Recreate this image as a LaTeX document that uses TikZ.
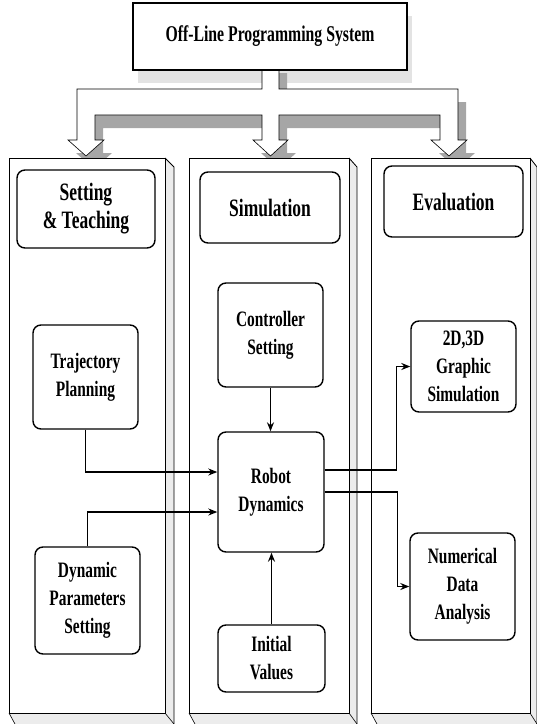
\documentclass[tikz,border=0pt]{standalone}
\usepackage{fontspec}
\setmainfont{Liberation Serif}[FakeStretch=0.70]
\usepackage{tikz}
\usetikzlibrary{positioning, arrows.meta}

\begin{document}
\begin{tikzpicture}[x=1pt, y=-1pt, >={Stealth[length=9pt,width=7pt]},
    blk/.style={draw, line width=1.4pt, rounded corners=8pt, fill=white, align=center,
      inner sep=0pt, font=\fontsize{22}{28}\selectfont\bfseries},
    head/.style={blk, font=\fontsize{25}{28}\selectfont\bfseries},
    flow/.style={->, line width=1.3pt}]
  \useasboundingbox (0,0) rectangle (537,724);
  % top box shadow
  \fill[gray!22] (138,16) rectangle (412,83);
  % branching arrow, shadow then face
  \def\branch{(77,89) -- (262,89) -- (262,60) -- (279,60) -- (279,89) -- (458,89) -- (458,140)
    -- (467,140) -- (449,156) -- (431,140) -- (440,140) -- (440,115) -- (279,115) -- (279,140)
    -- (288,140) -- (270.5,156) -- (253,140) -- (262,140) -- (262,115) -- (95,115) -- (95,140)
    -- (104,140) -- (86,156) -- (68,140) -- (77,140) -- cycle}
  \fill[gray!70, shift={(8,13)}] \branch;
  \draw[fill=white, line width=0.6pt] \branch;
  % columns
  \foreach \l/\r/\o in {9/165/174, 189/349/357, 371/530/537} {
    \fill[white] (\l,158) rectangle (\r,713);
    \fill[gray!15] (\r,158) -- (\o,167) -- (\o,724) -- (\r,713) -- cycle;
    \fill[gray!15] (\l,713) -- (\r,713) -- (\o,724) -- ({\l+6},724) -- cycle;
    \draw[line width=0.8pt] (\l,158) rectangle (\r,713);
    \draw[line width=0.8pt] (\r,158) -- (\o,167) -- (\o,724);
    \draw[line width=0.6pt] (\l,713) -- ({\l+6},724) (\r,713) -- (\o,724);
  }
  % title
  \node[draw, line width=2pt, fill=white, inner sep=0pt, minimum width=274pt, minimum height=67pt,
    font=\fontsize{22.5}{26}\selectfont\bfseries] (ops) at (270,36.5) {Off-Line Programming System};
  % column heads
  \node[head, minimum width=138pt, minimum height=78pt] (hset) at (86,209) {Setting\\\& Teaching};
  \node[head, minimum width=140pt, minimum height=71pt] (hsim) at (270,207.5) {Simulation};
  \node[head, minimum width=139pt, minimum height=71pt] (heval) at (453.5,201.5) {Evaluation};
  % blocks
  \node[blk, minimum width=105pt, minimum height=104pt] (traj) at (85.5,377) {Trajectory\\Planning};
  \node[blk, minimum width=105pt, minimum height=107pt] (dyn) at (87.5,600.5) {Dynamic\\Parameters\\Setting};
  \node[blk, minimum width=105pt, minimum height=104pt] (ctrl) at (270.5,335) {Controller\\Setting};
  \node[blk, minimum width=106pt, minimum height=120pt] (robot) at (271,492) {Robot\\Dynamics};
  \node[blk, minimum width=107pt, minimum height=67pt] (init) at (271.5,658.5) {Initial\\Values};
  \node[blk, minimum width=105pt, minimum height=91pt] (graph) at (463.5,366.5) {2D,3D\\Graphic\\Simulation};
  \node[blk, minimum width=105pt, minimum height=107pt] (num) at (462.5,586.5) {Numerical\\Data\\Analysis};
  % connectors
  \draw[flow] (traj.south) |- ([yshift=20pt]robot.west);
  \draw[flow] (dyn.north) |- ([yshift=-20pt]robot.west);
  \draw[flow] (ctrl.south) -- (robot.north -| ctrl.south);
  \draw[flow] (init.north) -- (robot.south -| init.north);
  \draw[flow] ([yshift=22pt]robot.east) -- ++(72,0) |- (graph.west);
  \draw[flow] (robot.east) -- ++(73,0) |- (num.west);
\end{tikzpicture}
\end{document}
